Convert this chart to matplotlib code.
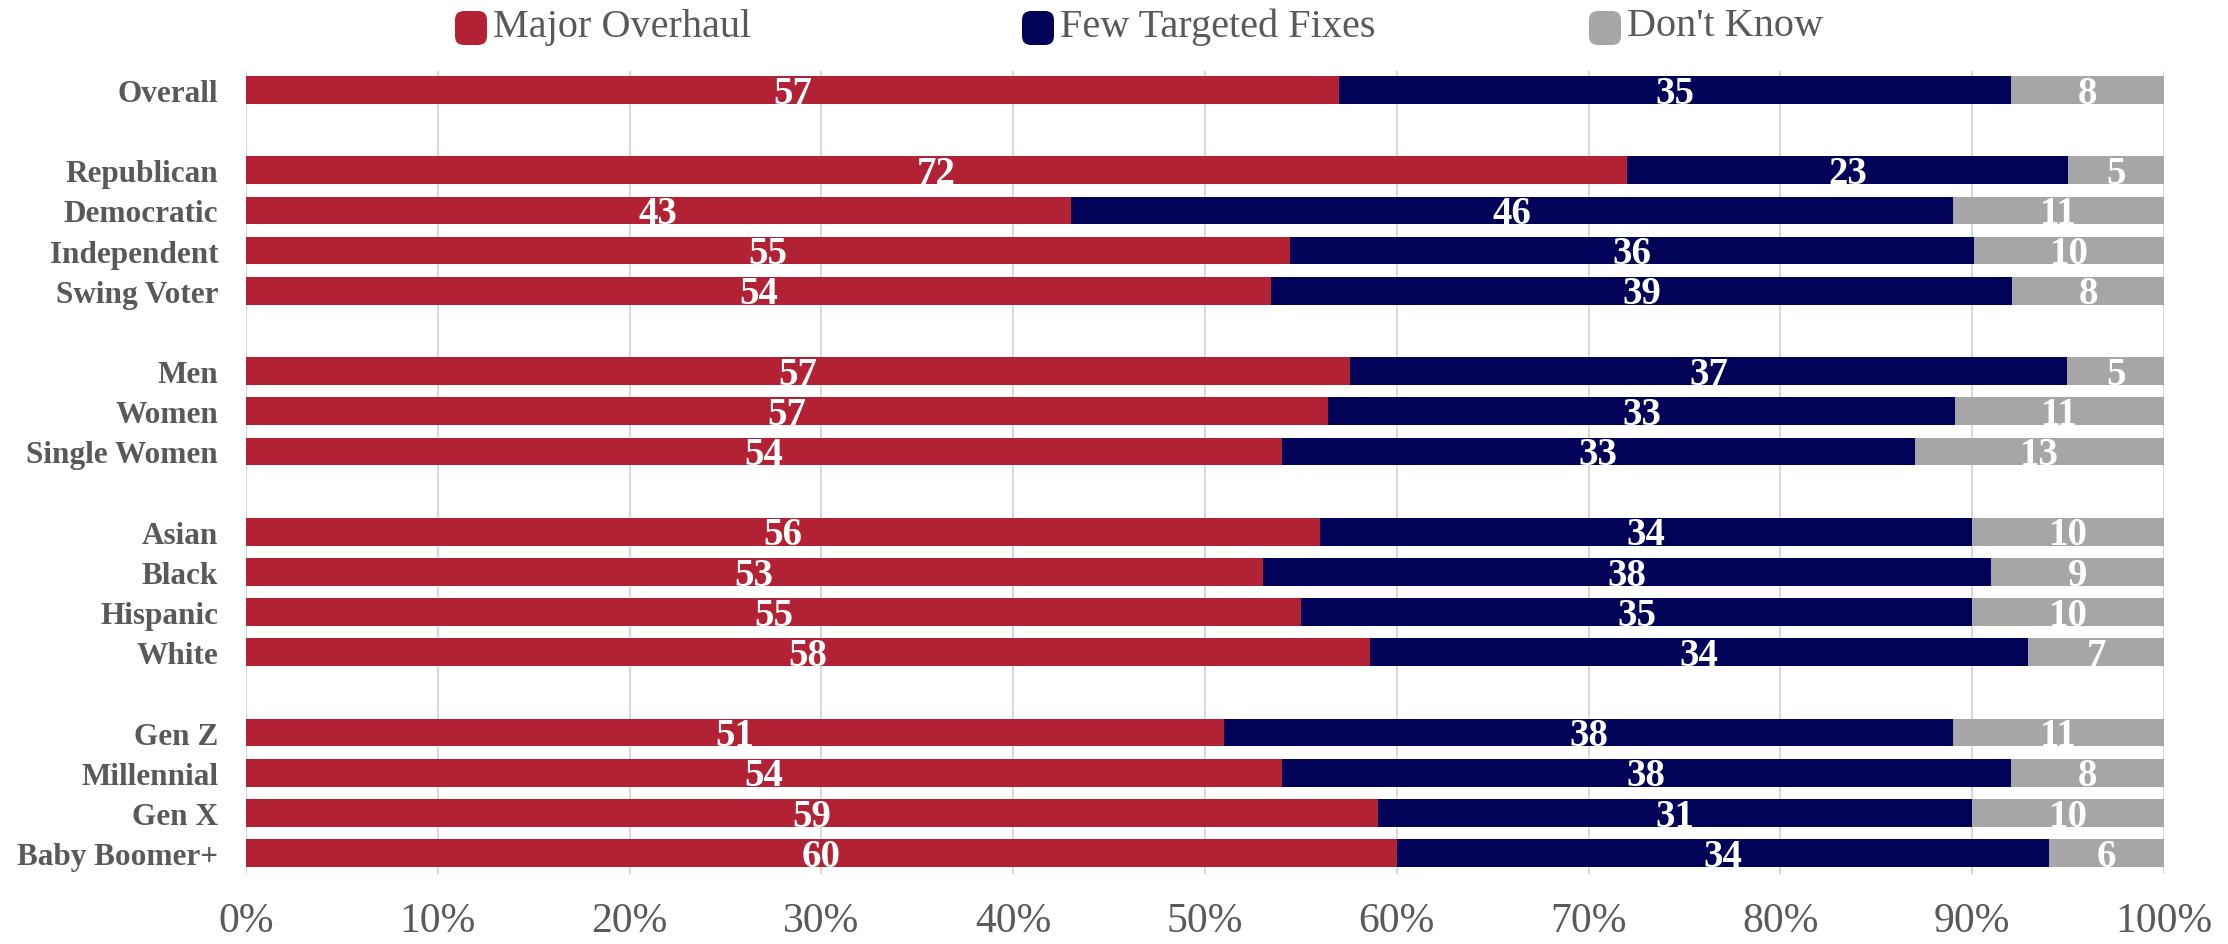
import numpy as np
import matplotlib
matplotlib.use("Agg")
import matplotlib.pyplot as plt
from matplotlib.patches import FancyBboxPatch

# data
groups = [
    ["Overall"],
    ["Republican", "Democratic", "Independent", "Swing Voter"],
    ["Men", "Women", "Single Women"],
    ["Asian", "Black", "Hispanic", "White"],
    ["Gen Z", "Millennial", "Gen X", "Baby Boomer+"],
]
major_overhaul = [57, 72, 43, 55, 54, 57, 57, 54, 56, 53, 55, 58, 51, 54, 59, 60]
few_fixes = [35, 23, 46, 36, 39, 37, 33, 33, 34, 38, 35, 34, 38, 38, 31, 34]
dont_know = [8, 5, 11, 10, 8, 5, 11, 13, 10, 9, 10, 7, 11, 8, 10, 6]
series_names = ["Major Overhaul", "Few Targeted Fixes", "Don't Know"]
xticks = np.arange(0, 101, 10)

colors = ["#B22234", "#020259", "#A6A6A6"]
text_grey = "#595959"
grid_grey = "#D9D9D9"
serif = ["Liberation Serif", "DejaVu Serif"]

W, H = 2228, 945
fig = plt.figure(figsize=(W / 100, H / 100), dpi=100)
ax = fig.add_axes([246 / W, 1 - 875 / H, (2164 - 246) / W, (875 - 72) / H])

# row positions with one blank slot between groups
labels, ypos = [], []
slot = 0
for g in groups:
    for name in g:
        labels.append(name)
        ypos.append(slot)
        slot += 1
    slot += 1
ypos = np.array(ypos)

vals = np.array([major_overhaul, few_fixes, dont_know], dtype=float)
pct = vals / vals.sum(axis=0) * 100

left = np.zeros(len(labels))
for k in range(3):
    ax.barh(ypos, pct[k], left=left, height=0.69, color=colors[k], zorder=2)
    for y, l, w, v in zip(ypos, left, pct[k], vals[k]):
        ax.text(l + w / 2, y + 0.08, f"{int(v)}", ha="center", va="center",
                color="white", fontsize=28, fontweight="bold", family=serif, zorder=3)
    left += pct[k]

ax.set_xlim(0, 100)
ax.set_ylim(19.52, -0.47)
ax.set_xticks(xticks)
ax.set_xticklabels([f"{t}%" for t in xticks], fontsize=30, color=text_grey, family=serif)
ax.set_yticks(ypos)
ax.set_yticklabels(labels, fontsize=22.5, fontweight="bold", color=text_grey, family=serif)
ax.tick_params(axis="both", length=0)
ax.tick_params(axis="x", pad=20)
ax.tick_params(axis="y", pad=20)
ax.xaxis.grid(True, color=grid_grey, linewidth=1.5, zorder=0)
ax.set_axisbelow(True)
for s in ax.spines.values():
    s.set_visible(False)

# legend across the top
for i, (name, c) in enumerate(zip(series_names, colors)):
    x0 = 455 + i * 567
    box = FancyBboxPatch((x0 / W, 1 - 46 / H), 32 / W, 34 / H,
                         boxstyle="round,pad=0,rounding_size=0.004",
                         transform=fig.transFigure, facecolor=c, edgecolor="none",
                         mutation_aspect=W / H)
    fig.patches.append(box)
    fig.text((x0 + 38) / W, 1 - 27 / H, name, ha="left", va="center",
             fontsize=29, color=text_grey, family=serif)

fig.savefig("out.png", dpi=100)
